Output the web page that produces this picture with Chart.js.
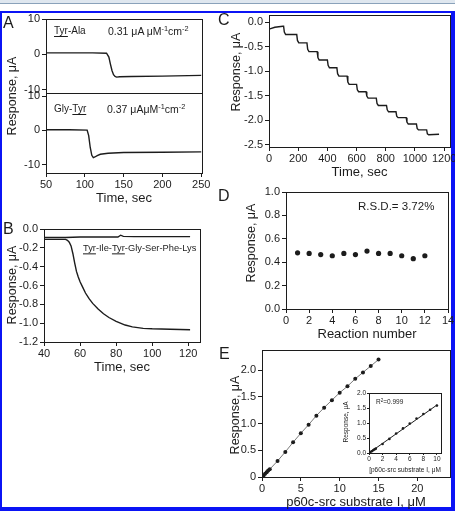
<!DOCTYPE html>
<html>
<head>
<meta charset="utf-8">
<script src="https://cdn.jsdelivr.net/npm/chart.js@4.4.0/dist/chart.umd.min.js"></script>
<style>
body { margin: 0; background: #fff; }
#fig { position: relative; width: 455px; height: 511px; overflow: hidden; font-family: 'Liberation Sans', Arial, sans-serif; color: #1c1c1c; }
#fig canvas { position: absolute; left: 0; top: 0; }
.band { position: absolute; left: 0; top: 0; width: 455px; height: 3px; background: #dfe7ef; border-bottom: 1px solid #8aa2ba; }
.frame { position: absolute; left: 0; top: 11px; width: 449px; height: 494px; border-style: solid; border-color: #0b14f5; border-width: 2px 4px 4px 2px; }
.t { position: absolute; white-space: nowrap; line-height: 1; transform: translateY(-50%); }
.letter { font-size: 16px; }
.note { font-size: 10px; }
.note sup { font-size: 70%; vertical-align: 0.45em; line-height: 0; }
.note u { text-underline-offset: 2px; }
.yt { position: absolute; white-space: nowrap; line-height: 1; font-size: 12.5px; transform: translate(-50%, -50%) rotate(-90deg); }
</style>
</head>
<body>
<div id="fig">
  <div class="band"></div>
  <div class="frame"></div>
  <canvas id="cA1" width="455" height="511"></canvas>
  <canvas id="cA2" width="455" height="511"></canvas>
  <canvas id="cB" width="455" height="511"></canvas>
  <canvas id="cC" width="455" height="511"></canvas>
  <canvas id="cD" width="455" height="511"></canvas>
  <canvas id="cE" width="455" height="511"></canvas>
  <canvas id="cInset" width="455" height="511"></canvas>

  <div class="t letter" style="left:3px; top:23px;">A</div>
  <div class="t letter" style="left:3px; top:229px;">B</div>
  <div class="t letter" style="left:218px; top:20px;">C</div>
  <div class="t letter" style="left:218px; top:196px;">D</div>
  <div class="t letter" style="left:219px; top:354px;">E</div>

  <div class="t note" style="left:54px; top:31px;"><u>Tyr</u>-Ala</div>
  <div class="t note" style="left:108px; top:31px; font-size:10.5px;">0.31 μA μM<sup>-1</sup>cm<sup>-2</sup></div>
  <div class="t note" style="left:54px; top:109px;">Gly-<u>Tyr</u></div>
  <div class="t note" style="left:107px; top:109px; font-size:10.5px;">0.37 μAμM<sup>-1</sup>cm<sup>-2</sup></div>
  <div class="t note" style="left:83px; top:249px; font-size:9.3px;"><u>Tyr</u>-Ile-<u>Tyr</u>-Gly-Ser-Phe-Lys</div>
  <div class="t" style="left:358px; top:207px; font-size:11.5px;">R.S.D.= 3.72%</div>
  <div class="t" style="left:376px; top:402px; font-size:6.5px;">R<sup style="font-size:70%;vertical-align:0.4em;line-height:0">2</sup>=0.999</div>

  <div class="yt" style="left:12px; top:96px;">Response, μA</div>
  <div class="yt" style="left:12px; top:285px;">Response, μA</div>
  <div class="yt" style="left:236px; top:72px;">Response, μA</div>
  <div class="yt" style="left:251px; top:243px;">Response, μA</div>
  <div class="yt" style="left:235px; top:415px;">Response, μA</div>
  <div class="yt" style="left:346px; top:422px; font-size:6.5px;">Response, μA</div>
</div>
<script>
// A: dipeptide responses (time, sec / response, uA)
const aTime1 = [50, 80, 110, 128, 131, 133, 135, 137, 139, 141, 145, 160, 200, 250];
const aResp1 = [0.4, 0.4, 0.4, 0.3, -0.8, -2.8, -4.6, -5.8, -6.3, -6.5, -6.4, -6.3, -6.2, -6.0];
const aTime2 = [50, 80, 103, 105, 107, 109, 111, 113, 116, 120, 130, 150, 200, 250];
const aResp2 = [0.2, 0.2, 0.1, -1.5, -5.0, -7.3, -8.0, -7.8, -7.4, -7.0, -6.7, -6.5, -6.4, -6.3];
const aYTicks = [10, 0, -10];
const aXTicks = [50, 100, 150, 200, 250];

// B: peptide substrate and control
const bTime = [40, 46, 52, 53, 54, 55, 56, 57, 58, 59, 60, 61.5, 63, 65, 67, 70, 73, 76, 80, 85, 89, 95, 100, 110, 121];
const bResp = [-0.11, -0.11, -0.11, -0.12, -0.14, -0.18, -0.26, -0.36, -0.45, -0.51, -0.56, -0.62, -0.68, -0.74, -0.79, -0.85, -0.9, -0.94, -0.98, -1.02, -1.04, -1.055, -1.06, -1.065, -1.07];
const bCtrlTime = [40, 52, 60, 70, 81, 82.5, 84, 90, 100, 110, 121];
const bCtrlResp = [-0.09, -0.09, -0.085, -0.085, -0.085, -0.065, -0.078, -0.08, -0.08, -0.08, -0.08];
const bYTicks = [0, -0.2, -0.4, -0.6, -0.8, -1.0, -1.2];
const bXTicks = [40, 60, 80, 100, 120];

// C: successive additions
const cTime = [0, 40, 95, 100, 105, 114, 190, 195, 204, 260, 265, 274, 330, 335, 344, 400, 405, 414, 465, 470, 479,
  535, 540, 549, 600, 605, 614, 665, 670, 679, 735, 740, 749, 805, 810, 819, 870, 875, 884, 940, 945, 954,
  1010, 1015, 1024, 1080, 1085, 1094, 1165];
const cResp = [-0.14, -0.1, -0.08, -0.08, -0.2, -0.25, -0.25, -0.37, -0.42, -0.42, -0.55, -0.6, -0.6, -0.72, -0.77,
  -0.77, -0.88, -0.93, -0.93, -1.05, -1.1, -1.1, -1.22, -1.27, -1.27, -1.38, -1.42, -1.42, -1.51, -1.55,
  -1.55, -1.66, -1.7, -1.7, -1.79, -1.83, -1.83, -1.92, -1.95, -1.95, -2.04, -2.08, -2.08, -2.17, -2.2,
  -2.2, -2.28, -2.3, -2.29];
const cYTicks = [0, -0.5, -1.0, -1.5, -2.0, -2.5];
const cXTicks = [0, 200, 400, 600, 800, 1000, 1200];

// D: repeated reactions
const dRun = [1, 2, 3, 4, 5, 6, 7, 8, 9, 10, 11, 12];
const dResp = [0.48, 0.475, 0.465, 0.455, 0.475, 0.465, 0.495, 0.475, 0.475, 0.455, 0.43, 0.455];
const dYTicks = [0, 0.2, 0.4, 0.6, 0.8, 1.0];
const dXTicks = [0, 2, 4, 6, 8, 10, 12, 14];

// E: calibration
const eConc = [0, 0.1, 0.2, 0.4, 0.6, 0.8, 1, 2, 3, 4, 5, 6, 7, 8, 9, 10, 11, 12, 13, 14, 15];
const eResp = [0, 0.015, 0.03, 0.06, 0.09, 0.12, 0.145, 0.30, 0.47, 0.65, 0.82, 0.98, 1.15, 1.30, 1.44, 1.58, 1.70, 1.84, 1.96, 2.08, 2.20];
const eYTicks = [0, 0.5, 1.0, 1.5, 2.0];
const eXTicks = [0, 5, 10, 15, 20];
const fitConc = [0, 10];
const fitResp = [0, 1.6];
const insetXTicks = [0, 2, 4, 6, 8, 10];

const ink = '#1c1c1c';
Chart.defaults.font.family = "'Liberation Sans', Arial, sans-serif";
Chart.defaults.color = ink;
Chart.defaults.animation = false;
Chart.defaults.events = [];
Chart.defaults.plugins.legend.display = false;
Chart.defaults.plugins.tooltip.enabled = false;

// box around each plot area, optional white fill (inset)
Chart.register({
  id: 'frame',
  beforeDraw(chart, args, opts) {
    if (!opts.fill) return;
    const a = chart.chartArea, c = chart.ctx;
    c.save();
    c.fillStyle = '#fff';
    c.fillRect(a.left, a.top, a.right - a.left, a.bottom - a.top);
    c.restore();
  },
  afterDraw(chart) {
    const a = chart.chartArea, c = chart.ctx;
    c.save();
    c.strokeStyle = ink;
    c.lineWidth = 1;
    c.strokeRect(Math.round(a.left) + 0.5, Math.round(a.top) + 0.5, Math.round(a.right - a.left), Math.round(a.bottom - a.top));
    c.restore();
  }
});

function pts(xs, ys) {
  return xs.map((x, i) => ({ x: x, y: ys[i] }));
}

function axis(o) {
  return {
    type: 'linear',
    min: o.min,
    max: o.max,
    border: { display: false },
    grid: { drawOnChartArea: false, drawTicks: o.tl !== 0, tickLength: o.tl || 4, tickColor: ink, tickWidth: 1 },
    ticks: {
      display: o.ticks.length > 0,
      padding: o.pad === undefined ? 1 : o.pad,
      font: { size: o.fs || 11 },
      color: ink,
      maxRotation: 0,
      autoSkip: false,
      callback: o.fmt || (v => String(v))
    },
    afterBuildTicks: s => { s.ticks = o.ticks.map(v => ({ value: v })); },
    afterFit: s => {
      if (s.isHorizontal()) s.height = o.size; else s.width = o.size;
      s.paddingLeft = s.paddingRight = s.paddingTop = s.paddingBottom = 0;
    },
    title: o.title
      ? { display: true, text: o.title, font: { size: o.tfs || 13 }, padding: 0, color: ink }
      : { display: false }
  };
}

function plot(id, box, datasets, x, y, fillBg) {
  return new Chart(document.getElementById(id), {
    type: 'scatter',
    data: { datasets: datasets },
    options: {
      responsive: false,
      layout: { padding: { left: box.l - y.size, top: box.t, right: 455 - box.r, bottom: 511 - box.b - x.size } },
      scales: { x: axis(x), y: axis(y) },
      plugins: { frame: { fill: !!fillBg } }
    }
  });
}

function trace(xs, ys, color, width) {
  return { data: pts(xs, ys), showLine: true, borderColor: color, borderWidth: width, pointRadius: 0, tension: 0 };
}

const fmt1 = v => v.toFixed(1);

plot('cA1', { l: 46, t: 19, r: 202, b: 93 },
  [trace(aTime1, aResp1, ink, 1.4)],
  { min: 50, max: 251, ticks: [], size: 0, tl: 0 },
  { min: -11, max: 10, ticks: aYTicks, size: 30, pad: 2 });

plot('cA2', { l: 46, t: 93, r: 202, b: 173 },
  [trace(aTime2, aResp2, ink, 1.4)],
  { min: 50, max: 251, ticks: aXTicks, size: 33, title: 'Time, sec' },
  { min: -12.5, max: 11, ticks: aYTicks, size: 30, pad: 2 });

plot('cB', { l: 44, t: 229, r: 200, b: 342 },
  [trace(bCtrlTime, bCtrlResp, ink, 1.3), trace(bTime, bResp, ink, 1.4)],
  { min: 40, max: 126.5, ticks: bXTicks, size: 33, title: 'Time, sec' },
  { min: -1.2, max: 0, ticks: bYTicks, size: 30, pad: 2, fmt: fmt1 });

plot('cC', { l: 269, t: 15, r: 450, b: 147 },
  [trace(cTime, cResp, ink, 1.4)],
  { min: 0, max: 1240, ticks: cXTicks, size: 33, title: 'Time, sec' },
  { min: -2.55, max: 0.15, ticks: cYTicks, size: 30, pad: 2, fmt: fmt1 });

plot('cD', { l: 286, t: 192, r: 448, b: 309 },
  [{ data: pts(dRun, dResp), showLine: false, pointRadius: 2.6, pointBackgroundColor: ink, pointBorderWidth: 0 }],
  { min: 0, max: 14, ticks: dXTicks, size: 33, title: 'Reaction number' },
  { min: 0, max: 1, ticks: dYTicks, size: 30, pad: 2, fmt: fmt1 });

plot('cE', { l: 262, t: 350, r: 450, b: 477 },
  [{ data: pts(eConc, eResp), showLine: true, borderColor: '#7a7a7a', borderWidth: 1, tension: 0,
     pointRadius: 2, pointBackgroundColor: ink, pointBorderColor: ink, pointBorderWidth: 0 }],
  { min: 0, max: 24.2, ticks: eXTicks, size: 33, title: 'p60c-src substrate I, μM' },
  { min: 0, max: 2.38, ticks: eYTicks, size: 30, pad: 2, fmt: v => (v === 0 ? '0' : v.toFixed(1)) });

plot('cInset', { l: 369, t: 393, r: 441, b: 453 },
  [trace(fitConc, fitResp, ink, 1),
   { data: pts(eConc.slice(0, 16), eResp.slice(0, 16)), showLine: false, pointRadius: 1.3,
     pointBackgroundColor: ink, pointBorderWidth: 0 }],
  { min: 0, max: 10.6, ticks: insetXTicks, size: 21, tl: 2, pad: 0.5, fs: 6.5, title: '[p60c-src substrate I, μM', tfs: 6.5 },
  { min: 0, max: 2, ticks: eYTicks, size: 14, tl: 2, pad: 1, fs: 6.5, fmt: fmt1 },
  true);
</script>
</body>
</html>
